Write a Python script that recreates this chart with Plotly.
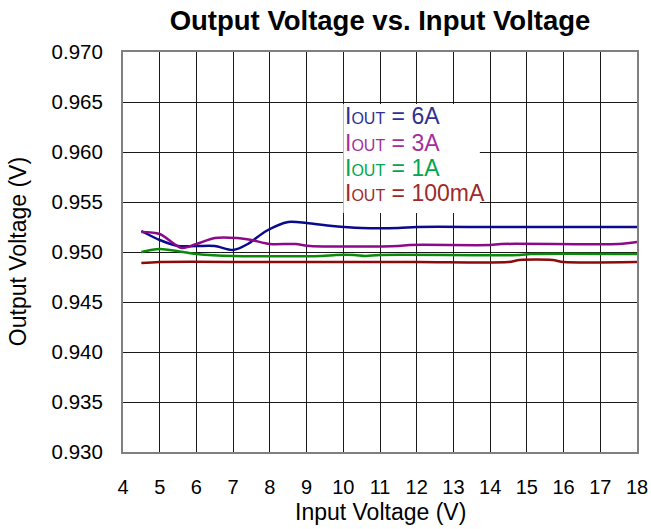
"""Output voltage vs. input voltage for several load currents."""

import plotly.graph_objects as go

# Input voltage (V) sample points
vin_6a = [4.5, 5.0, 5.5, 6.0, 6.5, 7.0, 7.4, 7.9, 8.5, 9.0, 9.7, 10.5, 11.5, 12.0, 14.0, 16.0, 18.0]
vout_6a = [0.9521, 0.9512, 0.9506, 0.9506, 0.9506, 0.9502, 0.9508, 0.9521, 0.9530, 0.9529,
           0.9526, 0.9524, 0.9524, 0.9525, 0.9525, 0.9525, 0.9525]

vin_3a = [4.5, 5.0, 5.6, 6.0, 6.5, 7.1, 7.5, 8.0, 8.7, 9.1, 11.5, 11.8, 14.0, 14.3, 17.5, 18.0]
vout_3a = [0.9520, 0.9518, 0.9504, 0.9508, 0.9514, 0.9514, 0.9512, 0.9508, 0.9508, 0.9506,
           0.9506, 0.9507, 0.9507, 0.9508, 0.9508, 0.9510]

vin_1a = [4.5, 5.0, 6.0, 7.0, 9.4, 9.8, 10.3, 10.6, 11.0, 14.8, 15.1, 18.0]
vout_1a = [0.9500, 0.9503, 0.9498, 0.9496, 0.9496, 0.9497, 0.9497, 0.9496, 0.9497, 0.9497,
           0.9498, 0.9498]

vin_100ma = [4.5, 5.0, 8.0, 12.0, 14.5, 14.8, 15.7, 16.0, 18.0]
vout_100ma = [0.9489, 0.9490, 0.9490, 0.9490, 0.9490, 0.9492, 0.9492, 0.9490, 0.9490]

x_ticks = list(range(4, 19))
y_ticks = [0.930, 0.935, 0.940, 0.945, 0.950, 0.955, 0.960, 0.965, 0.970]

series = [
    ("6A", vin_6a, vout_6a, "#0A0A8C", "#2E3192"),
    ("3A", vin_3a, vout_3a, "#8B0A8B", "#A3309B"),
    ("1A", vin_1a, vout_1a, "#0A8A0A", "#00A651"),
    ("100mA", vin_100ma, vout_100ma, "#8B0A0A", "#9E2A2B"),
]

FONT = "Liberation Sans, Arial, sans-serif"
W, H = 651, 529

fig = go.Figure()

for name, xs, ys, line_color, _ in series:
    fig.add_trace(
        go.Scatter(
            x=xs,
            y=ys,
            mode="lines",
            name=name,
            line={"color": line_color, "width": 2.5, "shape": "spline", "smoothing": 0.8},
            showlegend=False,
        ),
    )

# Text-only legend, drawn as annotations on a white box that hides the grid
fig.add_shape(
    type="rect",
    xref="x",
    yref="y",
    x0=10.0,
    x1=13.72,
    y0=0.9539,
    y1=0.9648,
    fillcolor="white",
    line={"width": 0},
    layer="between",
)
legend_y = [0.9636, 0.9609, 0.9584, 0.9559]
for (name, _, _, _, text_color), ly in zip(series, legend_y):
    fig.add_annotation(
        x=9.98,
        y=ly,
        xref="x",
        yref="y",
        xanchor="left",
        yanchor="middle",
        showarrow=False,
        text=f"I<span style='font-size:16px'>OUT</span> = {name}",
        font={"family": FONT, "size": 23, "color": text_color},
    )

# Axis titles
fig.add_annotation(
    x=0.5,
    y=-0.15,
    xref="paper",
    yref="paper",
    xanchor="center",
    yanchor="middle",
    showarrow=False,
    text="Input Voltage (V)",
    font={"family": FONT, "size": 23, "color": "black"},
)
fig.add_annotation(
    x=-0.204,
    y=0.5,
    xref="paper",
    yref="paper",
    xanchor="center",
    yanchor="middle",
    showarrow=False,
    textangle=-90,
    text="Output Voltage (V)",
    font={"family": FONT, "size": 23, "color": "black"},
)

fig.update_layout(
    width=W,
    height=H,
    margin={"l": 123, "r": 14, "t": 52, "b": 77},
    paper_bgcolor="white",
    plot_bgcolor="white",
    font={"family": FONT, "color": "black"},
    title={
        "text": "<b>Output Voltage vs. Input Voltage</b>",
        "x": 0.5,
        "xanchor": "center",
        "xref": "paper",
        "yref": "container",
        "y": 1 - 20 / H,
        "yanchor": "middle",
        "font": {"family": FONT, "size": 27.5, "color": "black"},
    },
)

fig.update_xaxes(
    range=[4, 18],
    tickvals=x_ticks,
    tickfont={"size": 20},
    ticklabelstandoff=16,
    showgrid=True,
    gridcolor="#1a1a1a",
    gridwidth=1.3,
    showline=True,
    linecolor="#808080",
    linewidth=2,
    mirror=True,
    zeroline=False,
    automargin=False,
)
fig.update_yaxes(
    range=[0.930, 0.970],
    tickvals=y_ticks,
    tickformat=".3f",
    tickfont={"size": 20.5},
    ticklabelstandoff=14,
    showgrid=True,
    gridcolor="#1a1a1a",
    gridwidth=1.3,
    showline=True,
    linecolor="#808080",
    linewidth=2,
    mirror=True,
    zeroline=False,
    automargin=False,
)

# Drop the browser's default body margin so the figure fills the window
fig.write_html(
    "out.html",
    config={"displayModeBar": False},
    post_script="document.body.style.margin = '0px';",
)
